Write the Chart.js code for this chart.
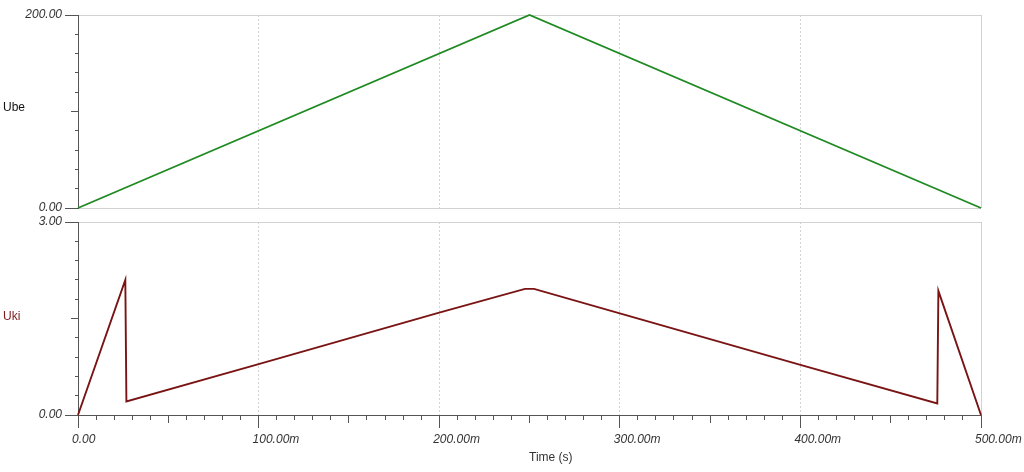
<!DOCTYPE html>
<html>
<head>
<meta charset="utf-8">
<title>Ube / Uki</title>
<script src="https://cdn.jsdelivr.net/npm/chart.js@4.4.1/dist/chart.umd.min.js"></script>
<style>
    html, body { margin: 0; padding: 0; background: #fff; }
    #wrap { position: relative; width: 1024px; height: 472px; overflow: hidden;
            font-family: "Liberation Sans", Arial, sans-serif; }
    #wrap canvas { position: absolute; left: 0; top: 0; }
    .name { position: absolute; font-size: 12px; line-height: 14px; white-space: nowrap; }
</style>
</head>
<body>
<div id="wrap">
    <canvas id="ubeChart" width="1024" height="472"></canvas>
    <canvas id="ukiChart" width="1024" height="472"></canvas>
    <div class="name" style="left:3px; top:100px; color:#111;">Ube</div>
    <div class="name" style="left:3px; top:309px; color:#7d1a1a;">Uki</div>
    <div class="name" style="left:529px; top:450px; color:#333;">Time (s)</div>
</div>
<script>
// Data (time in ms)
const ubeTime = [0, 250, 500];
const ubeValues = [0, 200, 0];

const ukiTime = [0, 26.2, 26.8, 100, 200, 247.5, 252.5, 300, 400, 475.8, 476.4, 500];
const ukiValues = [0, 2.10, 0.21, 0.79, 1.59, 1.96, 1.96, 1.58, 0.78, 0.18, 1.93, 0];

// Tick labels
const timeTickValues = [0, 100, 200, 300, 400, 500];
const timeTickLabels = ['0.00', '100.00m', '200.00m', '300.00m', '400.00m', '500.00m'];
const ubeTickValues = [0, 200];
const ubeTickLabels = ['0.00', '200.00'];
const ukiTickValues = [0, 3];
const ukiTickLabels = ['0.00', '3.00'];

const AXIS_COLOR = '#555';
const GRID_COLOR = '#d2d2d2';
const NONE = 'rgba(0,0,0,0)';
const TICK_FONT = { family: '"Liberation Sans", Arial, sans-serif', size: 12, style: 'italic' };

function near(a, b) {
    return Math.abs(a - b) < 1e-6;
}

function labelFor(value, values, labels) {
    const i = values.findIndex(v => near(v, value));
    return i >= 0 ? labels[i] : '';
}

// major = labelled tick, mid = halfway between labels, minor = the rest
function tickKind(value, labelStep) {
    const r = value / labelStep;
    if (near(r, Math.round(r))) return 'major';
    if (near(r * 2, Math.round(r * 2))) return 'mid';
    return 'minor';
}

function toPoints(xs, ys) {
    return xs.map((x, i) => ({ x: x, y: ys[i] }));
}

// Time axis (shared by both panels)
function timeAxis(showTicks) {
    const labelStep = timeTickValues[1] - timeTickValues[0];
    const max = timeTickValues[timeTickValues.length - 1];
    return {
        type: 'linear',
        min: timeTickValues[0],
        max: max,
        afterFit: s => { s.height = showTicks ? 57 : 0; s.paddingLeft = 0; s.paddingRight = 0; },
        ticks: {
            display: showTicks,
            stepSize: 10,
            autoSkip: false,
            maxRotation: 0,
            minRotation: 0,
            align: 'start',
            labelOffset: -6,
            padding: 4,
            color: '#333',
            font: TICK_FONT,
            callback: v => labelFor(v, timeTickValues, timeTickLabels)
        },
        grid: {
            drawTicks: showTicks,
            tickLength: 13,
            tickColor: AXIS_COLOR,
            color: ctx => {
                if (!ctx.tick) return NONE;
                const v = ctx.tick.value;
                if (near(v, 0) || tickKind(v, labelStep) !== 'major') return NONE;
                return GRID_COLOR;
            },
            tickBorderDash: ctx => {
                if (!ctx.tick) return [];
                const kind = tickKind(ctx.tick.value, labelStep);
                if (kind === 'mid') return [7, 40];
                if (kind === 'minor') return [4, 40];
                return [];
            },
            tickBorderDashOffset: 0
        },
        border: {
            display: showTicks,
            color: AXIS_COLOR,
            dash: ctx => {
                if (!ctx.tick) return [];
                const v = ctx.tick.value;
                return (v > 0 && v < max) ? [2, 2] : [];
            }
        }
    };
}

// Value axis on the left, ticks are drawn from the far end towards the axis
function valueAxis(tickValues, tickLabels, step, baseGrid) {
    const min = tickValues[0];
    const max = tickValues[tickValues.length - 1];
    const labelStep = max - min;
    return {
        type: 'linear',
        position: 'left',
        min: min,
        max: max,
        afterFit: s => { s.width = 78; s.paddingTop = 0; s.paddingBottom = 0; },
        ticks: {
            stepSize: step,
            autoSkip: false,
            padding: 3,
            color: '#333',
            font: TICK_FONT,
            callback: v => labelFor(v, tickValues, tickLabels)
        },
        grid: {
            tickLength: 13,
            tickColor: AXIS_COLOR,
            color: ctx => {
                if (!ctx.tick) return NONE;
                const v = ctx.tick.value;
                if (near(v, max)) return GRID_COLOR;
                if (near(v, min)) return baseGrid;
                return NONE;
            },
            tickBorderDash: ctx => {
                if (!ctx.tick) return [];
                const kind = tickKind(ctx.tick.value - min, labelStep);
                if (kind === 'mid') return [7, 6];
                if (kind === 'minor') return [3, 10];
                return [];
            },
            tickBorderDashOffset: ctx => {
                if (!ctx.tick) return 0;
                const kind = tickKind(ctx.tick.value - min, labelStep);
                if (kind === 'mid') return 7;
                if (kind === 'minor') return 3;
                return 0;
            }
        },
        border: { color: AXIS_COLOR, width: 1 }
    };
}

function makeChart(canvasId, label, xs, ys, color, xAxis, yAxis, padding) {
    const ctx = document.getElementById(canvasId).getContext('2d');
    return new Chart(ctx, {
        type: 'line',
        data: {
            datasets: [{
                label: label,
                data: toPoints(xs, ys),
                borderColor: color,
                borderWidth: 1.9,
                pointRadius: 0,
                tension: 0,
                fill: false,
                clip: 3
            }]
        },
        options: {
            responsive: false,
            animation: false,
            layout: { padding: padding },
            plugins: {
                legend: { display: false },
                tooltip: { enabled: false }
            },
            scales: { x: xAxis, y: yAxis }
        }
    });
}

makeChart('ubeChart', 'Ube', ubeTime, ubeValues, '#1f8a22',
    timeAxis(false), valueAxis(ubeTickValues, ubeTickLabels, 20, GRID_COLOR),
    { left: 0, right: 43, top: 15, bottom: 264 });

makeChart('ukiChart', 'Uki', ukiTime, ukiValues, '#7a1414',
    timeAxis(true), valueAxis(ukiTickValues, ukiTickLabels, 0.3, NONE),
    { left: 0, right: 43, top: 222, bottom: 0 });
</script>
</body>
</html>
